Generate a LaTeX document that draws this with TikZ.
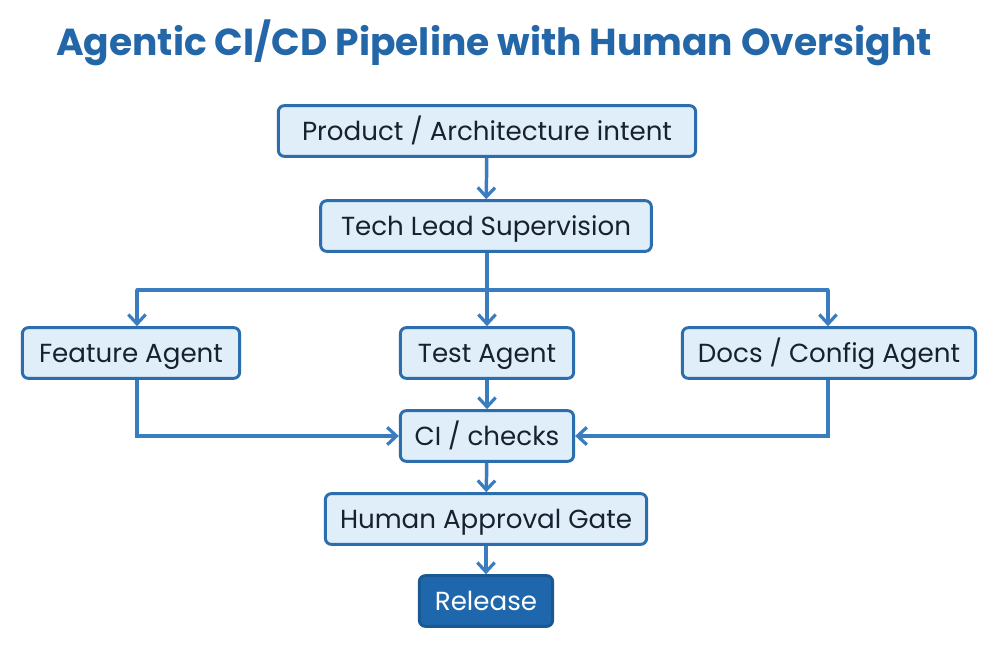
\documentclass[tikz,border=0pt]{standalone}
\usepackage{fontspec}
\setmainfont{Poppins}
\usetikzlibrary{arrows.meta,positioning}
\definecolor{boxline}{HTML}{2C6DAD}
\definecolor{boxfill}{HTML}{E0EEFA}
\definecolor{wire}{HTML}{3A7CC0}
\definecolor{ink}{HTML}{17212F}
\definecolor{titleblue}{HTML}{2467A8}
\definecolor{relfill}{HTML}{1F67AC}

\begin{document}
\begin{tikzpicture}[x=0.75pt,y=-0.75pt,>={Straight Barb[length=7pt,width=13pt,line width=2.4pt]},
  box/.style={draw=boxline,fill=boxfill,line width=2.2pt,rounded corners=4.5pt,
    minimum height=38pt,inner sep=4pt,text height=14.5pt,text depth=0.7pt,
    text=ink,font=\fontsize{19.6}{22}\selectfont},
  relbox/.style={box,fill=relfill,draw=relfill!85!black,text=white},
  wire/.style={draw=wire,line width=2.6pt}]
\useasboundingbox[fill=white] (0,0) rectangle (1000,664);
\node (title) at (494,43) [font=\fontsize{28.2}{32}\selectfont\bfseries,text=titleblue] {Agentic CI/CD Pipeline with Human Oversight};
\node (intent) at (487,131) [box,minimum width=313pt] {Product / Architecture intent};
\node (lead) at (486,226) [box,minimum width=248pt] {Tech Lead Supervision};
\node (feature) at (131,353) [box,minimum width=163pt] {Feature Agent};
\node (test) at (487,353) [box,minimum width=130pt] {Test Agent};
\node (docs) at (829,353) [box,minimum width=220pt] {Docs / Config Agent};
\node (ci) at (487,436) [box,minimum width=130pt] {CI / checks};
\node (gate) at (486,519) [box,minimum width=241pt] {Human Approval Gate};
\node (release) at (486,601) [relbox,minimum width=100pt] {Release};
\coordinate (busL) at (137,290);
\coordinate (busR) at (828,290);
% fan-out to the agents
\draw[wire,->] (intent) -- (lead);
\draw[wire,->] (lead.south -| test) -- (test);
\draw[wire,line cap=round] (busL) -- (busR);
\draw[wire,->] (busL) -- (busL |- feature.north);
\draw[wire,->] (busR) -- (busR |- docs.north);
% everything meets at CI
\draw[wire,->] (feature.south -| busL) |- (ci.west);
\draw[wire,->] (docs.south -| busR) |- (ci.east);
\draw[wire,->] (test) -- (ci);
\draw[wire,->] (ci) -- (gate);
\draw[wire,->] (gate) -- (release);
\end{tikzpicture}
\end{document}
